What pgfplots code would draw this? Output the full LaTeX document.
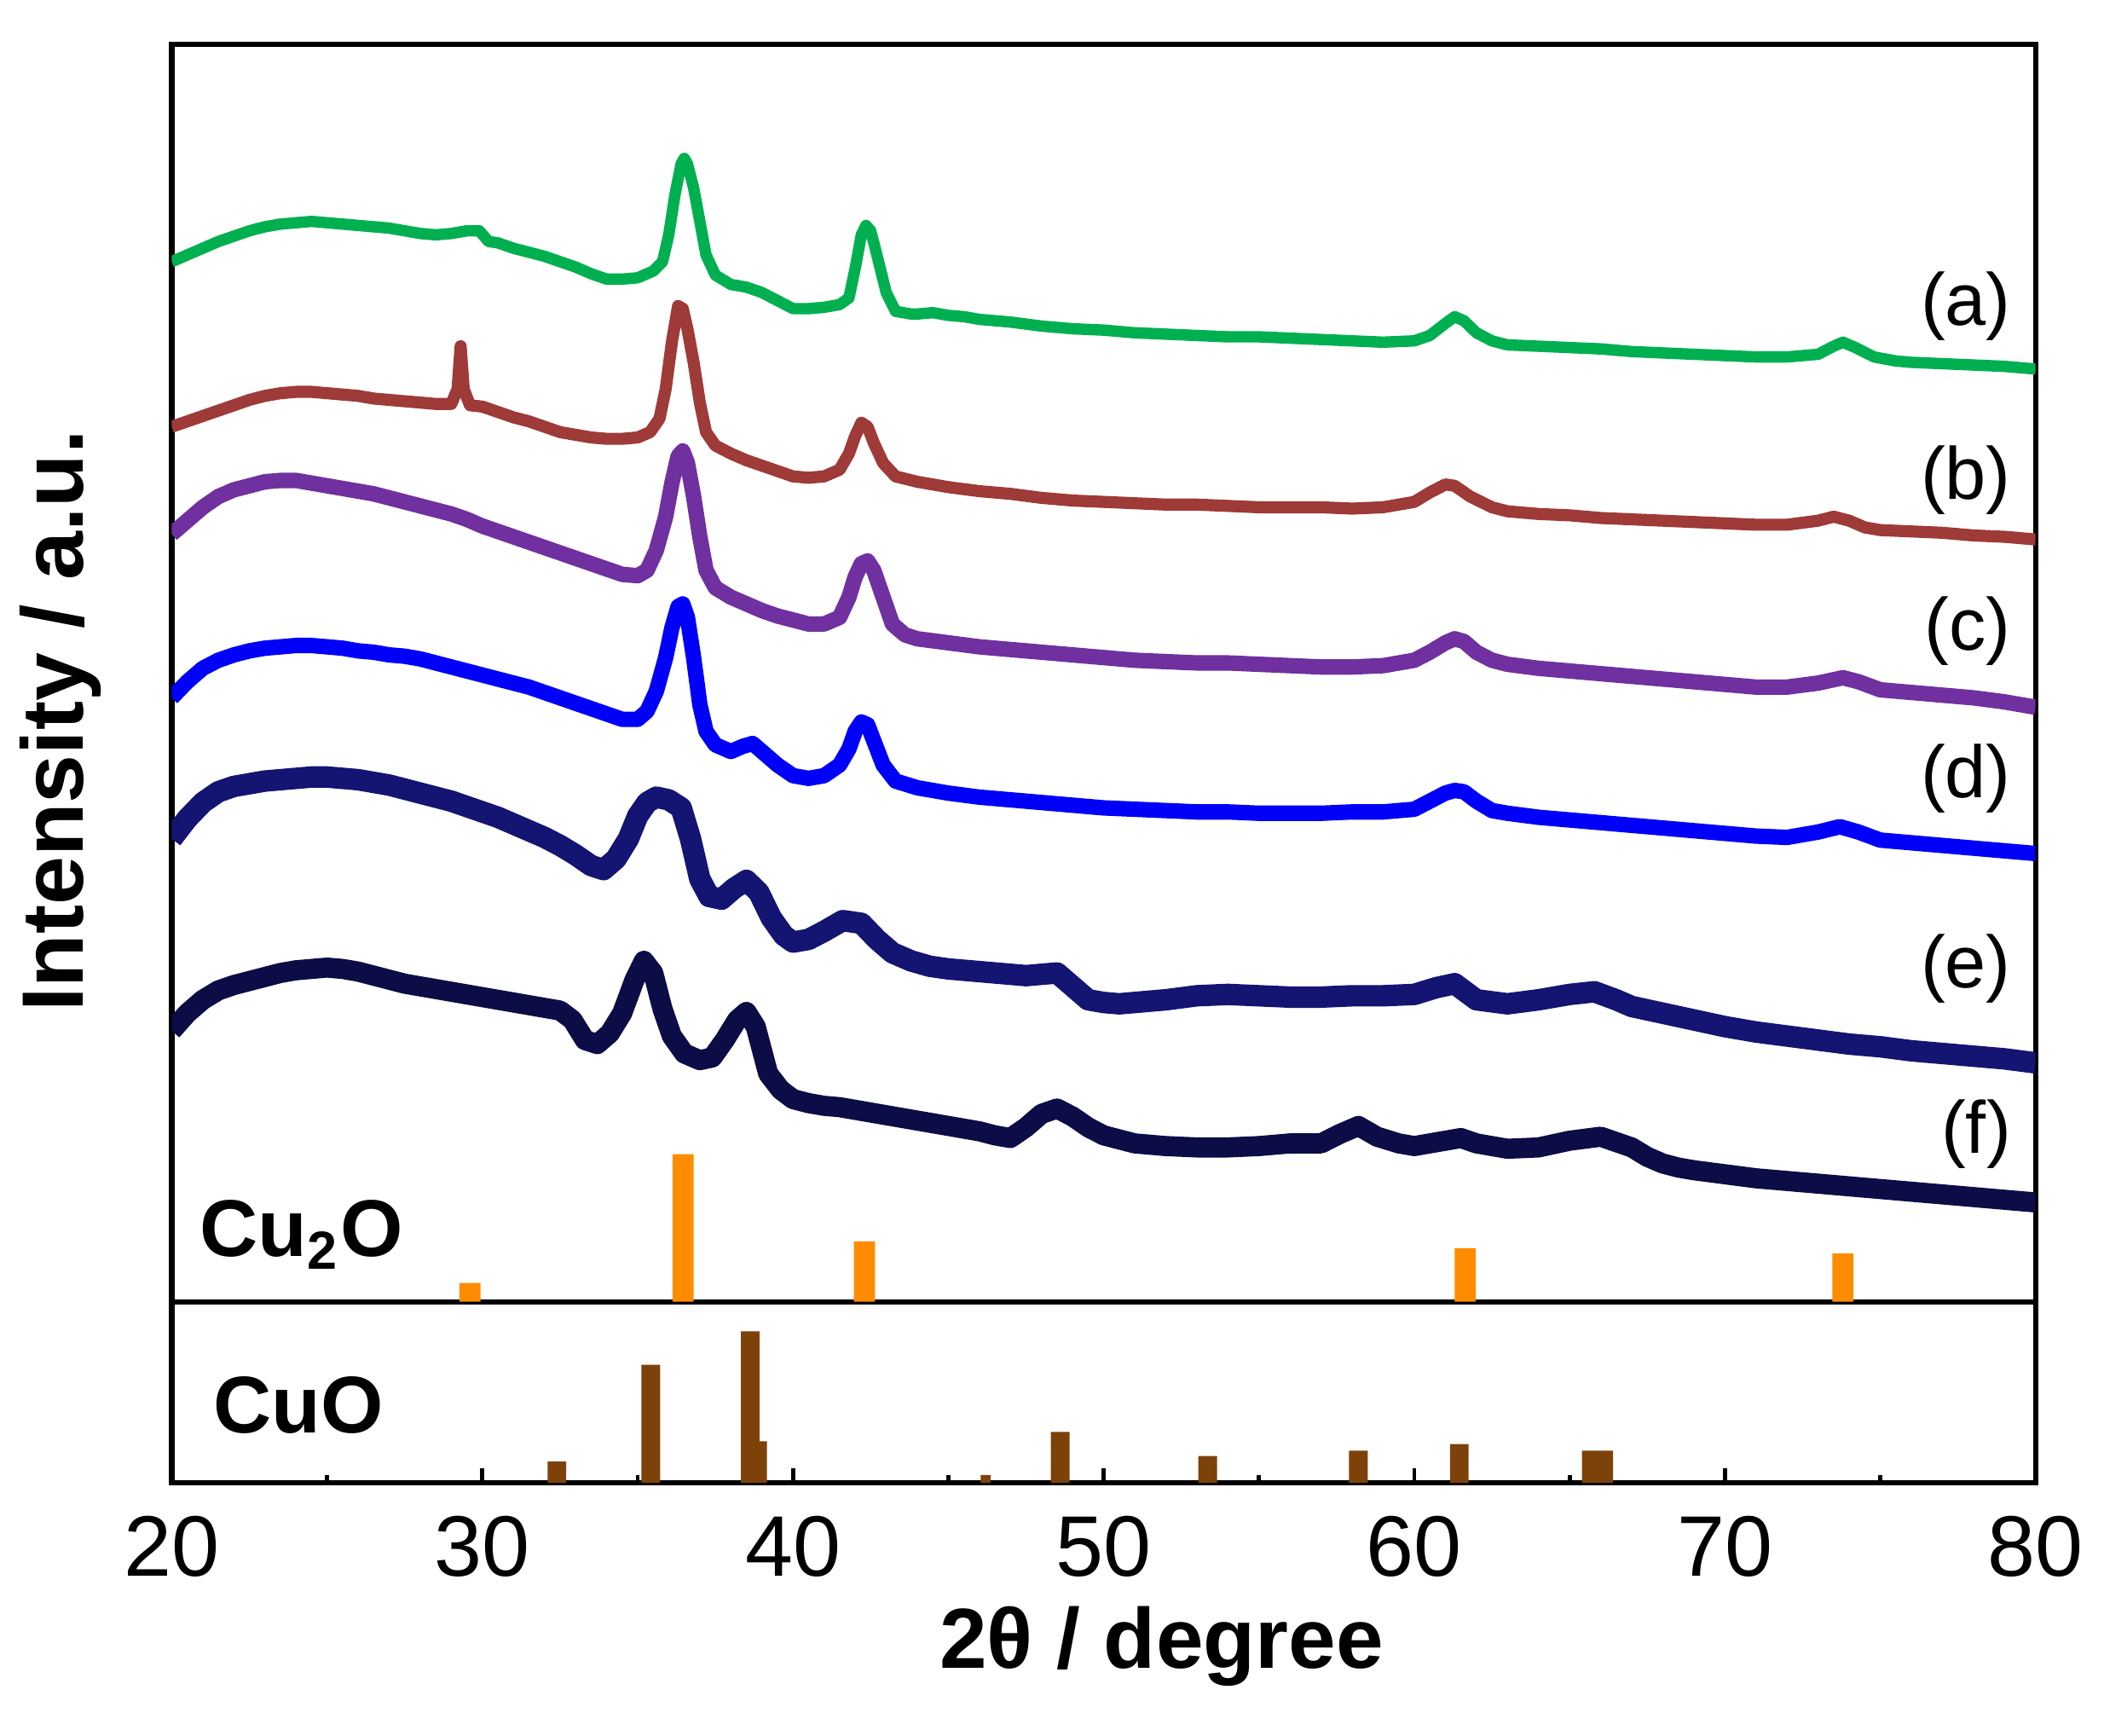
\documentclass[border=0pt]{standalone}
\usepackage{pgfplots}
\pgfplotsset{compat=1.18}
\usepackage{fontspec}
\setmainfont{Liberation Sans}
\definecolor{cA}{RGB}{0,176,80}
\definecolor{cB}{RGB}{158,58,56}
\definecolor{cC}{RGB}{112,48,160}
\definecolor{cD}{RGB}{0,0,250}
\definecolor{cE}{RGB}{20,20,115}
\definecolor{cF}{RGB}{12,12,70}
\definecolor{cOr}{RGB}{255,140,0}
\definecolor{cBr}{RGB}{125,65,10}
\begin{document}
\begin{tikzpicture}
\useasboundingbox (-25.6pt,-37.6pt) rectangle (288pt,221pt);
% ---------------- lower axis (CuO) ----------------
\begin{axis}[
  name=lower, at={(0,0)}, anchor=south west,
  scale only axis, width=277.8pt, height=27pt,
  xmin=20, xmax=80, ymin=0, ymax=135,
  xtick={20,30,...,80}, minor x tick num=1,
  xtick pos=bottom, tick align=inside,
  major tick length=2.2pt, minor tick length=1.2pt,
  every tick/.style={black, line width=0.6pt},
  ytick=\empty,
  axis line style={line width=0.8pt},
  /pgf/number format/assume math mode=true,
  xticklabel style={font=\fontsize{12.8}{15}\selectfont, inner sep=0pt, anchor=north, yshift=-4.8pt},
  xlabel={2θ / degree},
  xlabel style={font=\fontsize{12.7}{15}\selectfont\bfseries, at={(axis description cs:0.531,-0.90)}, anchor=center},
]
\addplot[ybar, bar shift=0, bar width=0.6, fill=cBr, draw=none] coordinates {
(32.4,16) (35.42,88) (38.62,113) (48.6,38) (53.35,20) (58.2,24) (61.45,29) (65.7,24) (66.1,24)};
\addplot[ybar, bar shift=0, bar width=0.32, fill=cBr, draw=none] coordinates {
(39.0,31) (46.2,6)};
\node[anchor=west, inner sep=0pt, font=\fontsize{12}{14}\selectfont\bfseries] at (axis cs:21.3,58) {CuO};
\end{axis}
% ---------------- upper axis (patterns) ----------------
\begin{axis}[
  name=upper, at={(0,27pt)}, anchor=south west,
  scale only axis, width=277.8pt, height=187.4pt,
  xmin=20, xmax=80, ymin=0, ymax=937,
  xtick=\empty, ytick=\empty,
  axis line style={line width=0.8pt},
  ylabel={Intensity / a.u.},
  ylabel style={font=\fontsize{13}{15}\selectfont\bfseries, at={(axis description cs:-0.0598,0.462)}, anchor=center},
  every axis plot/.append style={line join=round},
]
\addplot[ybar, bar shift=0, bar width=0.68, fill=cOr, draw=none] coordinates {
(29.6,14) (36.46,110) (42.3,45) (61.64,40) (73.8,36)};
\node[anchor=west, inner sep=0pt, font=\fontsize{12}{14}\selectfont\bfseries] at (axis cs:20.86,50) {Cu\textsubscript{2}O};
% (a) green
\addplot[cA, line width=1.7pt] coordinates {
(20.0,775) (20.5,780) (21.0,785) (21.5,790) (22.0,794) (22.5,798) (23.0,801) (23.5,803) (24.0,804) (24.5,805)
(25.0,804) (25.5,803) (26.0,802) (26.5,801) (27.0,800) (27.5,798) (28.0,796) (28.5,795) (29.0,796) (29.5,798)
(29.9,798) (30.2,790) (30.5,789) (31.0,785) (31.5,782) (32.0,779) (32.5,775) (33.0,771) (33.5,766) (34.0,762)
(34.5,762) (35.0,763) (35.5,768) (35.8,775) (36.0,795) (36.2,825) (36.4,848) (36.5,852) (36.6,848) (36.8,830)
(37.0,805) (37.2,780) (37.5,765) (38.0,758) (38.5,756) (39.0,752) (39.5,746) (40.0,740) (40.5,740) (41.0,741)
(41.5,743) (41.8,748) (42.0,770) (42.2,795) (42.35,802) (42.5,798) (42.7,780) (43.0,752) (43.3,738) (43.8,736)
(44.0,736) (44.5,737) (45.0,735) (45.5,734) (46.0,732) (47.0,730) (48.0,727) (49.0,725) (50.0,724) (51.0,722)
(52.0,721) (53.0,720) (54.0,719) (55.0,719) (56.0,718) (57.0,717) (58.0,716) (59.0,715) (60.0,716) (60.5,720)
(61.0,729) (61.3,734) (61.6,731) (62.0,722) (62.5,716) (63.0,713) (64.0,712) (65.0,711) (66.0,710) (67.0,708)
(68.0,707) (69.0,706) (70.0,705) (71.0,704) (72.0,704) (73.0,706) (73.5,712) (73.8,715) (74.2,711) (74.8,704)
(75.5,701) (76.0,700) (77.0,699) (78.0,698) (79.0,697) (80.0,695)};
% (b) brown
\addplot[cB, line width=1.8pt] coordinates {
(20.0,652) (20.5,656) (21.0,660) (21.5,664) (22.0,668) (22.5,672) (23.0,675) (23.5,677) (24.0,678) (24.5,678)
(25.0,677) (25.5,676) (26.0,675) (26.5,673) (27.0,672) (27.5,671) (28.0,670) (28.5,669) (29.0,669) (29.2,680)
(29.3,712) (29.4,680) (29.6,668) (30.0,667) (30.5,663) (31.0,659) (31.5,656) (32.0,652) (32.5,648) (33.0,646)
(33.5,644) (34.0,643) (34.5,643) (35.0,644) (35.4,648) (35.7,658) (35.9,680) (36.1,715) (36.3,742) (36.45,740)
(36.6,725) (36.8,700) (37.0,670) (37.2,648) (37.5,638) (38.0,632) (38.5,627) (39.0,623) (39.5,619) (40.0,615)
(40.5,614) (41.0,615) (41.5,620) (41.8,632) (42.0,645) (42.2,655) (42.4,652) (42.6,640) (42.9,625) (43.3,615)
(44.0,611) (45.0,607) (46.0,604) (47.0,602) (48.0,599) (49.0,597) (50.0,596) (51.0,595) (52.0,594) (53.0,594)
(54.0,593) (55.0,592) (56.0,592) (57.0,592) (58.0,591) (59.0,592) (60.0,596) (60.5,603) (61.0,609) (61.3,608)
(61.8,600) (62.5,592) (63.0,589) (64.0,587) (65.0,586) (66.0,584) (67.0,583) (68.0,582) (69.0,581) (70.0,580)
(71.0,579) (72.0,579) (73.0,582) (73.5,585) (74.0,582) (74.5,577) (75.0,575) (76.0,574) (77.0,573) (78.0,571)
(79.0,570) (80.0,568)};
% (c) purple
\addplot[cC, line width=2.3pt] coordinates {
(20.0,572) (20.5,582) (21.0,592) (21.5,600) (22.0,605) (22.5,608) (23.0,611) (23.5,612) (24.0,612) (24.5,610)
(25.0,608) (25.5,606) (26.0,604) (26.5,602) (27.0,599) (27.5,596) (28.0,593) (28.5,590) (29.0,587) (29.5,583)
(30.0,578) (30.5,574) (31.0,570) (31.5,566) (32.0,562) (32.5,558) (33.0,554) (33.5,550) (34.0,546) (34.5,542)
(35.0,541) (35.3,545) (35.6,560) (35.9,585) (36.1,610) (36.3,630) (36.45,634) (36.6,625) (36.8,600) (37.0,570)
(37.2,545) (37.5,532) (38.0,525) (38.5,520) (39.0,515) (39.5,511) (40.0,508) (40.5,505) (41.0,505) (41.5,510)
(41.8,525) (42.0,540) (42.2,550) (42.4,552) (42.6,545) (42.9,525) (43.2,505) (43.6,497) (44.0,494) (45.0,491)
(46.0,488) (47.0,486) (48.0,484) (49.0,482) (50.0,480) (51.0,478) (52.0,477) (53.0,476) (54.0,476) (55.0,475)
(56.0,474) (57.0,473) (58.0,473) (59.0,474) (60.0,478) (60.5,484) (61.0,491) (61.3,494) (61.6,492) (62.0,484)
(62.5,478) (63.0,475) (64.0,472) (65.0,470) (66.0,468) (67.0,466) (68.0,464) (69.0,462) (70.0,460) (71.0,458)
(72.0,458) (73.0,461) (73.8,465) (74.3,462) (75.0,456) (76.0,454) (77.0,452) (78.0,450) (79.0,447) (80.0,443)};
% (d) blue
\addplot[cD, line width=2.3pt] coordinates {
(20.0,450) (20.5,462) (21.0,472) (21.5,478) (22.0,482) (22.5,485) (23.0,487) (23.5,488) (24.0,489) (24.5,489)
(25.0,488) (25.5,487) (26.0,485) (26.5,484) (27.0,482) (27.5,481) (28.0,479) (28.5,476) (29.0,473) (29.5,470)
(30.0,467) (30.5,464) (31.0,461) (31.5,458) (32.0,454) (32.5,450) (33.0,446) (33.5,442) (34.0,438) (34.5,434)
(35.0,434) (35.3,440) (35.6,455) (35.9,480) (36.1,502) (36.3,518) (36.45,520) (36.6,510) (36.8,480) (37.0,445)
(37.2,425) (37.5,415) (38.0,410) (38.4,414) (38.7,416) (39.0,410) (39.5,400) (40.0,392) (40.5,390) (41.0,392)
(41.5,400) (41.8,412) (42.0,425) (42.2,432) (42.4,430) (42.6,418) (42.9,400) (43.3,388) (44.0,383) (45.0,379)
(46.0,376) (47.0,374) (48.0,372) (49.0,370) (50.0,368) (51.0,367) (52.0,366) (53.0,365) (54.0,365) (55.0,364)
(56.0,364) (57.0,364) (58.0,365) (59.0,365) (60.0,367) (60.5,373) (61.0,379) (61.3,381) (61.6,380) (62.0,373)
(62.5,366) (63.0,364) (64.0,361) (65.0,359) (66.0,357) (67.0,355) (68.0,353) (69.0,351) (70.0,349) (71.0,347)
(72.0,346) (73.0,350) (73.7,354) (74.3,350) (75.0,344) (76.0,342) (77.0,340) (78.0,338) (79.0,336) (80.0,334)};
% (e) navy
\addplot[cE, line width=3.2pt] coordinates {
(20.0,345) (20.5,360) (21.0,372) (21.5,380) (22.0,384) (22.5,386) (23.0,388) (23.5,389) (24.0,390) (24.5,391)
(25.0,391) (25.5,390) (26.0,389) (26.5,387) (27.0,385) (27.5,382) (28.0,379) (28.5,376) (29.0,373) (29.5,369)
(30.0,365) (30.5,361) (31.0,356) (31.5,351) (32.0,346) (32.5,340) (33.0,333) (33.5,325) (33.9,322) (34.3,330)
(34.7,345) (35.0,362) (35.3,372) (35.6,376) (36.0,374) (36.4,368) (36.7,345) (37.0,315) (37.3,302) (37.7,300)
(38.1,308) (38.5,314) (38.9,305) (39.3,286) (39.7,273) (40.0,268) (40.5,270) (41.0,276) (41.6,284) (42.2,282)
(42.7,270) (43.2,260) (43.8,254) (44.4,250) (45.0,248) (45.5,247) (46.0,246) (46.5,245) (47.0,244) (47.5,243)
(48.0,244) (48.5,245) (49.0,235) (49.5,225) (50.0,223) (50.5,222) (51.0,223) (52.0,225) (53.0,228) (54.0,229)
(55.0,228) (56.0,227) (57.0,227) (58.0,228) (59.0,228) (60.0,229) (60.7,234) (61.3,237) (62.0,225) (63.0,222)
(64.0,225) (65.0,229) (65.8,231) (66.5,225) (67.0,220) (68.0,215) (69.0,210) (70.0,205) (71.0,201) (72.0,198)
(73.0,195) (74.0,192) (75.0,190) (76.0,187) (77.0,185) (78.0,183) (79.0,181) (80.0,178)};
% (f) dark navy
\addplot[cF, line width=3.0pt] coordinates {
(20.0,202) (20.5,215) (21.0,225) (21.5,232) (22.0,236) (22.5,239) (23.0,242) (23.5,245) (24.0,247) (24.5,248)
(25.0,249) (25.5,248) (26.0,246) (26.5,243) (27.0,240) (27.5,237) (28.0,235) (28.5,233) (29.0,231) (29.5,229)
(30.0,227) (30.5,225) (31.0,223) (31.5,221) (32.0,219) (32.5,217) (32.9,210) (33.3,195) (33.7,192) (34.1,200)
(34.5,215) (34.9,240) (35.2,254) (35.5,245) (35.8,218) (36.1,198) (36.5,185) (37.0,180) (37.4,182) (37.8,195)
(38.2,210) (38.5,216) (38.8,205) (39.2,170) (39.6,158) (40.0,151) (40.5,148) (41.0,146) (41.5,145) (42.0,143)
(42.5,141) (43.0,139) (43.5,137) (44.0,135) (44.5,133) (45.0,131) (45.5,129) (46.0,127) (46.5,124) (47.0,122)
(47.5,130) (48.0,140) (48.5,144) (49.0,138) (49.5,130) (50.0,124) (51.0,118) (52.0,116) (53.0,115) (54.0,115)
(55.0,116) (56.0,118) (57.0,118) (57.6,125) (58.2,131) (58.8,123) (59.5,118) (60.0,116) (61.0,120) (61.5,122)
(62.0,118) (63.0,114) (64.0,115) (65.0,120) (66.0,123) (67.0,115) (67.5,108) (68.0,103) (68.5,100) (69.0,98)
(70.0,95) (71.0,92) (72.0,90) (73.0,88) (74.0,86) (75.0,84) (76.0,82) (77.0,80) (78.0,78) (79.0,76) (80.0,74)};
\node[anchor=east, inner sep=0pt, font=\fontsize{11}{13}\selectfont] at (axis cs:79.25,742) {(a)};
\node[anchor=east, inner sep=0pt, font=\fontsize{11}{13}\selectfont] at (axis cs:79.25,612) {(b)};
\node[anchor=east, inner sep=0pt, font=\fontsize{11}{13}\selectfont] at (axis cs:79.25,500) {(c)};
\node[anchor=east, inner sep=0pt, font=\fontsize{11}{13}\selectfont] at (axis cs:79.25,390) {(d)};
\node[anchor=east, inner sep=0pt, font=\fontsize{11}{13}\selectfont] at (axis cs:79.25,248) {(e)};
\node[anchor=east, inner sep=0pt, font=\fontsize{11}{13}\selectfont] at (axis cs:79.25,125) {(f)};
\end{axis}
\end{tikzpicture}
\end{document}
